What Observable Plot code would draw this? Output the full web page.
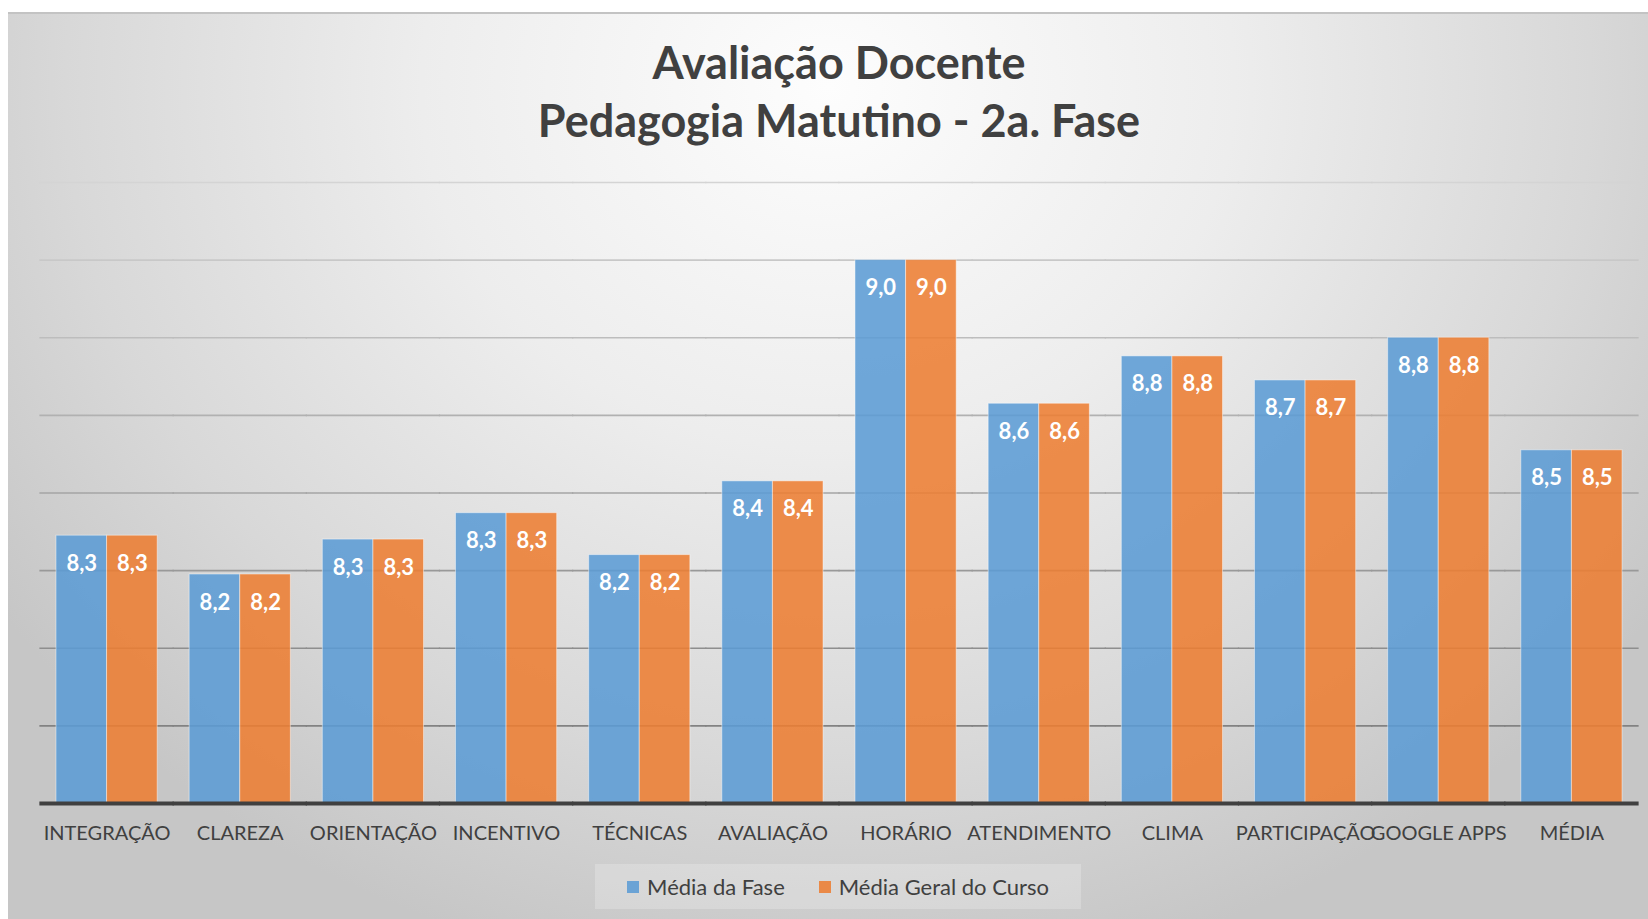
<!DOCTYPE html>
<html><head><meta charset="utf-8">
<script src="https://cdn.jsdelivr.net/npm/d3@7"></script>
<script src="https://cdn.jsdelivr.net/npm/@observablehq/plot@0.6"></script>
<style>
body{margin:0;background:#fff;}
#wrap{position:relative;width:1648px;height:919px;overflow:hidden;font-family:Lato,sans-serif;}
#frame{position:absolute;left:8px;top:12px;width:1640px;height:907px;border-top:2px solid #c3c3c3;box-sizing:border-box;
 background: radial-gradient(ellipse 62% 100% at 50% 8%, #fdfdfd 0%, #ededed 40%, #d8d8d8 75%, #c6c6c6 100%);}
#title{position:absolute;left:40px;width:1598px;top:33px;text-align:center;font-weight:700;font-size:45px;line-height:58px;color:#404040;}
#chart{position:absolute;left:0;top:160px;}
#legend{position:absolute;left:595px;top:864px;width:486px;height:45px;background:rgba(255,255,255,0.22);display:flex;align-items:center;justify-content:center;gap:34px;font-size:22px;color:#404040;}
.item{display:flex;align-items:center;}
.sw{display:inline-block;width:12px;height:12px;margin-right:8px;}
</style></head>
<body>
<div id="wrap">
  <div id="frame"></div>
  <div id="title"></div>
  <div id="chart"></div>
  <div id="legend"></div>
</div>
<script>
const titleLines = ["Avaliação Docente", "Pedagogia Matutino - 2a. Fase"];
const categories = ["INTEGRAÇÃO","CLAREZA","ORIENTAÇÃO","INCENTIVO","TÉCNICAS","AVALIAÇÃO","HORÁRIO","ATENDIMENTO","CLIMA","PARTICIPAÇÃO","GOOGLE APPS","MÉDIA"];
const series = ["Média da Fase","Média Geral do Curso"];
const mediaDaFase       = [8.29,8.19,8.28,8.348,8.24,8.43,9.00,8.63,8.752,8.69,8.80,8.51];
const mediaGeralDoCurso = [8.29,8.19,8.28,8.348,8.24,8.43,9.00,8.63,8.752,8.69,8.80,8.51];
const yMin = 7.6, yMax = 9.2;
const yTicks = [7.8,8.0,8.2,8.4,8.6,8.8,9.0,9.2];
const colors = ["#5B9BD5","#ED7D31"];

document.getElementById("title").innerHTML = titleLines.join("<br>");

const data = [];
categories.forEach((c,i) => {
  data.push({cat:c, series:series[0], value:mediaDaFase[i]});
  data.push({cat:c, series:series[1], value:mediaGeralDoCurso[i]});
});
const fmt = v => v.toFixed(1).replace(".", ",");
const gridColor = d3.interpolateRgb("#828282", "#d4d4d4");
const ext = -16.6; // extend rules across the gap between groups

const chart = Plot.plot({
  width: 1648, height: 700,
  marginTop: 22, marginBottom: 57, marginLeft: 40, marginRight: 10,
  style: {background: "transparent", fontFamily: "Lato, sans-serif"},
  fx: {domain: categories, paddingInner: 0.24, paddingOuter: 0.12, round: false, label: null, axis: null},
  x: {domain: series, padding: 0, round: false, axis: null},
  y: {domain: [yMin, yMax], axis: null},
  color: {domain: series, range: colors},
  marks: [
    ...yTicks.map(t => Plot.ruleY([t], {stroke: gridColor((t - 7.8) / 1.4), strokeWidth: 1.6, insetLeft: ext, insetRight: ext})),
    Plot.barY(data, {fx: "cat", x: "series", y1: yMin, y2: "value", fill: "series", fillOpacity: 0.87,
      stroke: "white", strokeOpacity: 0.45, strokeWidth: 1}),
    Plot.text(data, {fx: "cat", x: "series", y: "value", text: d => fmt(d.value), dy: 28,
      fill: "white", fontWeight: "bold", fontSize: 22}),
    Plot.ruleY([yMin], {stroke: "#404040", strokeWidth: 4, insetLeft: ext, insetRight: ext}),
    Plot.axisFx({anchor: "bottom", tickSize: 0, tickPadding: 22, fontSize: 20, fill: "#404040", label: null})
  ]
});
document.getElementById("chart").appendChild(chart);

const legend = document.getElementById("legend");
series.forEach((s,i) => {
  const it = document.createElement("div");
  it.className = "item";
  it.innerHTML = `<span class="sw" style="background:${colors[i]};opacity:0.87"></span><span>${s}</span>`;
  legend.appendChild(it);
});
</script>
</body></html>
